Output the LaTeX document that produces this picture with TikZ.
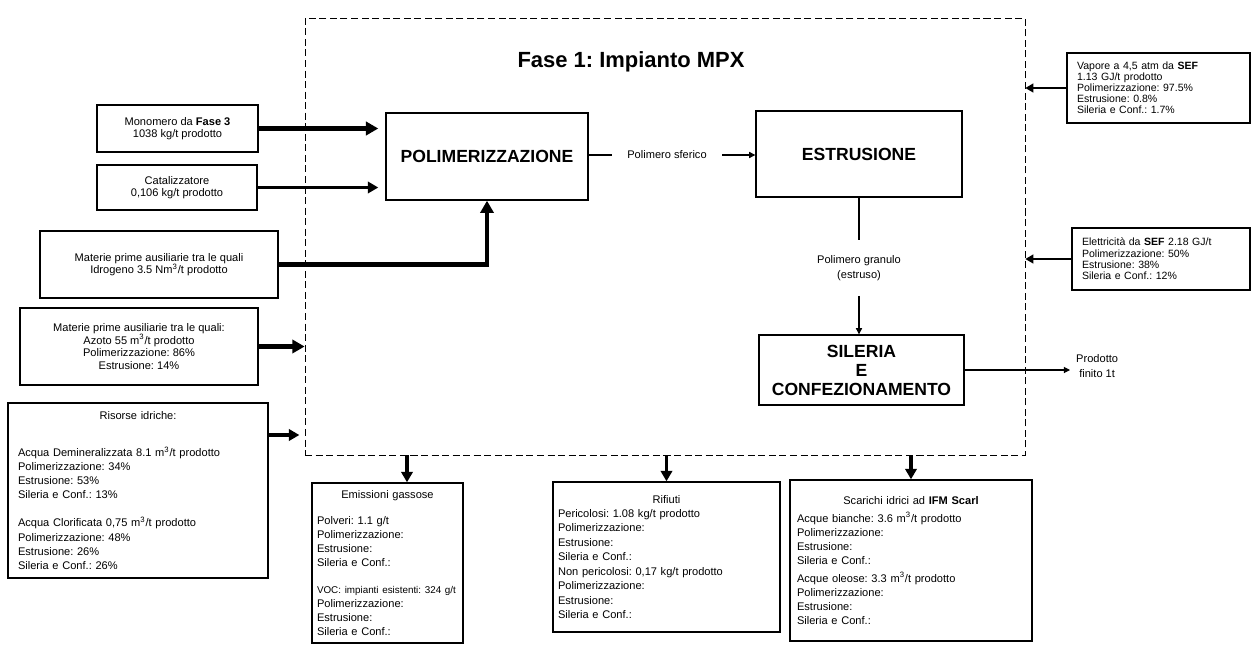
\documentclass[tikz,border=0pt]{standalone}
\usepackage{fontspec}
\setmainfont{Liberation Sans}
\usetikzlibrary{arrows.meta}
\frenchspacing

\begin{document}
\begin{tikzpicture}[x=0.02cm,y=-0.02cm,
    inbox/.style={draw,thick,inner sep=0pt,font=\fontsize{6.3}{7.2}\selectfont,align=center},
    listbox/.style={draw,thick,inner xsep=0.12cm,inner ysep=0pt,font=\fontsize{6.3}{8}\selectfont,align=left},
    procbox/.style={draw,thick,inner sep=0pt,font=\fontsize{10}{10.8}\selectfont\bfseries,align=center},
    flowtext/.style={font=\fontsize{6.3}{8.5}\selectfont,align=center},
    arrbig/.style={line width=2.3pt,-{Triangle[length=7pt,width=7.5pt]}},
    arrmid/.style={line width=1.8pt,-{Triangle[length=6pt,width=6.5pt]}},
    arrsmall/.style={line width=1pt,-{Triangle[length=4.5pt,width=5pt]}},
    arrthin/.style={line width=0.6pt,-{Triangle[length=3.5pt,width=3.5pt]}}]

\useasboundingbox (0,0) rectangle (1251,646);

\node [draw, line width=0.5pt, dash pattern=on 4pt off 2pt, inner sep=0pt,
       minimum width=14.4cm, minimum height=8.74cm] (fase) at (665,236.5) {};
\node [font=\fontsize{12.5}{14}\selectfont\bfseries] (titolo) at (631,62) {Fase 1: Impianto MPX};

\node [procbox, minimum width=4.04cm, minimum height=1.74cm] (polim) at (487,156.5) {POLIMERIZZAZIONE};
\node [procbox, minimum width=4.12cm, minimum height=1.72cm] (estrus) at (859,154) {ESTRUSIONE};
\node [procbox, minimum width=4.1cm, minimum height=1.4cm] (sileria) at (861.5,370) {SILERIA\\E\\CONFEZIONAMENTO};

\node [flowtext, inner xsep=0.3cm] (sferico) at (667,155) {Polimero sferico};
\node [flowtext, inner ysep=0.3cm] (granulo) at (859,268) {Polimero granulo\\(estruso)};
\node [flowtext, anchor=west] (prodotto) at (1070,366) {Prodotto\\finito 1t};

\node [inbox, minimum width=3.22cm, minimum height=0.94cm] (mono) at (177.5,128.5)
    {Monomero da \textbf{Fase 3}\\1038 kg/t prodotto};
\node [inbox, minimum width=3.2cm, minimum height=0.9cm] (cata) at (177,187.5)
    {Catalizzatore\\0,106 kg/t prodotto};
\node [inbox, minimum width=4.76cm, minimum height=1.34cm] (idro) at (159,264.5)
    {Materie prime ausiliarie tra le quali\\Idrogeno 3.5 Nm\textsuperscript{3}/t prodotto};
\node [inbox, minimum width=4.76cm, minimum height=1.54cm] (azoto) at (139,346.5)
    {Materie prime ausiliarie tra le quali:\\Azoto 55 m\textsuperscript{3}/t prodotto\\Polimerizzazione: 86\%\\Estrusione: 14\%};
\node [listbox, inner xsep=0.2cm, text width=4.8cm, minimum height=3.5cm] (risorse) at (138,490.5)
    {\makebox[\hsize]{Risorse idriche:}\\[13pt]
     Acqua Demineralizzata 8.1 m\textsuperscript{3}/t prodotto\\
     Polimerizzazione: 34\%\\
     Estrusione: 53\%\\
     Sileria e Conf.: 13\%\\[8pt]
     Acqua Clorificata 0,75 m\textsuperscript{3}/t prodotto\\
     Polimerizzazione: 48\%\\
     Estrusione: 26\%\\
     Sileria e Conf.: 26\%};

\node [listbox, inner xsep=0.2cm, text width=3.26cm, minimum height=1.4cm, font=\fontsize{6}{6.3}\selectfont] (vapore) at (1158.5,88)
    {Vapore a 4,5 atm da \textbf{SEF}\\1.13 GJ/t prodotto\\Polimerizzazione: 97.5\%\\Estrusione: 0.8\%\\Sileria e Conf.: 1.7\%};
\node [listbox, inner xsep=0.2cm, text width=3.16cm, minimum height=1.24cm, font=\fontsize{6}{6.5}\selectfont] (elettr) at (1161,259)
    {Elettricità da \textbf{SEF} 2.18 GJ/t\\Polimerizzazione: 50\%\\Estrusione: 38\%\\Sileria e Conf.: 12\%};

\node [listbox, inner xsep=0.1cm, text width=2.82cm, minimum height=3.2cm] (emiss) at (387.5,563)
    {\makebox[\hsize]{Emissioni gassose}\\[7pt]
     Polveri: 1.1 g/t\\
     Polimerizzazione:\\
     Estrusione:\\
     Sileria e Conf.:\\[7pt]
     {\fontsize{5.6}{8}\selectfont VOC: impianti esistenti: 324 g/t}\\
     Polimerizzazione:\\
     Estrusione:\\
     Sileria e Conf.:};
\node [listbox, inner xsep=0.1cm, text width=4.34cm, minimum height=3cm] (rifiuti) at (666.5,557)
    {\makebox[\hsize]{Rifiuti}\\
     Pericolosi: 1.08 kg/t prodotto\\
     Polimerizzazione:\\
     Estrusione:\\
     Sileria e Conf.:\\[1pt]
     Non pericolosi: 0,17 kg/t prodotto\\
     Polimerizzazione:\\
     Estrusione:\\
     Sileria e Conf.:};
\node [listbox, inner xsep=0.14cm, text width=4.56cm, minimum height=3.22cm] (scarichi) at (911,560.5)
    {\makebox[\hsize]{Scarichi idrici ad \textbf{IFM Scarl}}\\[2pt]
     Acque bianche: 3.6 m\textsuperscript{3}/t prodotto\\
     Polimerizzazione:\\
     Estrusione:\\
     Sileria e Conf.:\\[2pt]
     Acque oleose: 3.3 m\textsuperscript{3}/t prodotto\\
     Polimerizzazione:\\
     Estrusione:\\
     Sileria e Conf.:\\[10pt]};

\coordinate (acqua) at (270,435);
\coordinate (gas) at (407,0);

\draw [arrbig, shorten >=4pt] (mono.east) -- (mono.east -| polim.west);
\draw [arrmid, shorten >=4pt] (cata.east) -- (cata.east -| polim.west);
\draw [arrbig] (idro.east) -| (polim.south);
\draw [arrbig] (azoto.east) -- (azoto.east -| fase.west);
\draw [arrmid, shorten >=3pt] (risorse.east |- acqua) -- (acqua -| fase.west);

\draw [arrsmall] (vapore.west) -- (vapore.west -| fase.east);
\draw [arrsmall] (elettr.west) -- (elettr.west -| fase.east);

\draw [arrmid] (fase.south -| gas) -- (emiss.north -| gas);
\draw [arrmid] (fase.south -| rifiuti.north) -- (rifiuti.north);
\draw [arrmid] (fase.south -| scarichi.north) -- (scarichi.north);

\draw [line width=0.7pt] (polim.east |- sferico.west) -- (sferico.west);
\draw [arrthin] (sferico.east) -- (sferico.east -| estrus.west);
\draw [line width=0.7pt] (estrus.south) -- (granulo.north);
\draw [arrthin] (granulo.south) -- (granulo.south |- sileria.north);
\draw [arrthin] (sileria.east) -- (sileria.east -| prodotto.west);

\end{tikzpicture}
\end{document}
